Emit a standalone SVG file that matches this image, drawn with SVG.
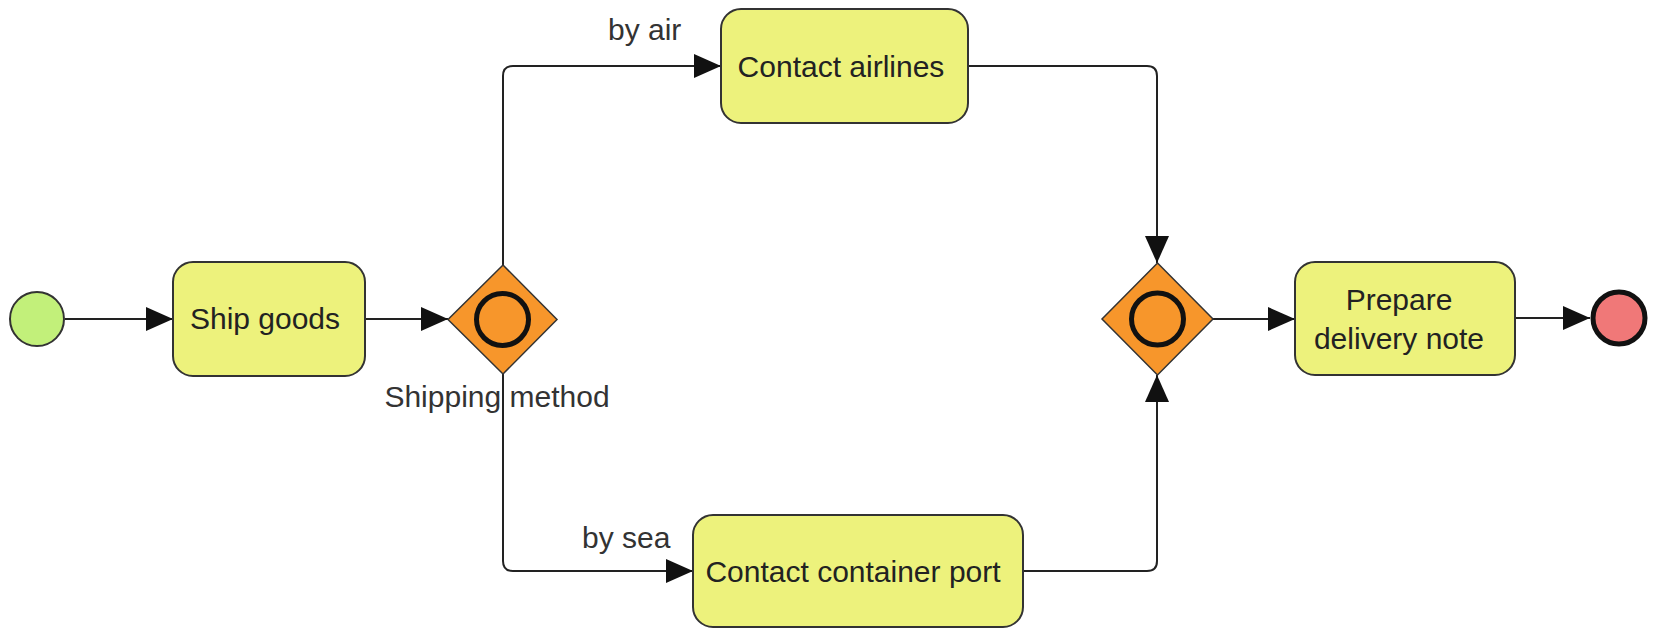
<svg xmlns="http://www.w3.org/2000/svg" width="1653" height="628" viewBox="0 0 1653 628">
<style>
.task{fill:#EDF27C;stroke:#333;stroke-width:2}
.gw{fill:#F7962B;stroke:#333;stroke-width:1.5}
.gwin{fill:#F7962B;stroke:#111;stroke-width:5}
.conn{fill:none;stroke:#222;stroke-width:2}
text{font-family:"Liberation Sans",Arial,sans-serif;font-size:30px}
.tt{fill:#222;text-anchor:middle}
.lbl{fill:#333}
</style>
<defs>
<marker id="arr" markerUnits="userSpaceOnUse" markerWidth="28" markerHeight="26" refX="27" refY="12" orient="auto">
<path d="M0,0 L27,12 L0,24 Z" fill="#111"/>
</marker>
</defs>
<g id="connectors">
<path class="conn" d="M65 319 L173 319" marker-end="url(#arr)"/>
<path class="conn" d="M365 319 L448 319" marker-end="url(#arr)"/>
<path class="conn" d="M503 265 L503 76 Q503 66 513 66 L721 66" marker-end="url(#arr)"/>
<path class="conn" d="M503 374 L503 561 Q503 571 513 571 L693 571" marker-end="url(#arr)"/>
<path class="conn" d="M968 66 L1147 66 Q1157 66 1157 76 L1157 263" marker-end="url(#arr)"/>
<path class="conn" d="M1023 571 L1147 571 Q1157 571 1157 561 L1157 375" marker-end="url(#arr)"/>
<path class="conn" d="M1213 319 L1295 319" marker-end="url(#arr)"/>
<path class="conn" d="M1515 318 L1590 318" marker-end="url(#arr)"/>
<text class="lbl" x="608" y="40">by air</text>
<text class="lbl" x="582" y="548">by sea</text>
</g>
<g id="start">
<circle cx="37" cy="319" r="27" fill="#C2F07A" stroke="#333" stroke-width="2"/>
</g>
<g id="ship-goods">
<rect class="task" x="173" y="262" width="192" height="114" rx="20"/>
<text class="tt" x="265" y="329">Ship goods</text>
</g>
<g id="gateway-split">
<polygon class="gw" points="503,265 557,319.5 503,374 448,319.5"/>
<circle class="gwin" cx="502.5" cy="319.5" r="26"/>
<text class="tt" x="497" y="407" style="fill:#333">Shipping method</text>
</g>
<g id="contact-airlines">
<rect class="task" x="721" y="9" width="247" height="114" rx="20"/>
<text class="tt" x="841" y="77">Contact airlines</text>
</g>
<g id="contact-container-port">
<rect class="task" x="693" y="515" width="330" height="112" rx="20"/>
<text class="tt" x="853" y="582">Contact container port</text>
</g>
<g id="gateway-join">
<polygon class="gw" points="1157.5,263 1213,319 1157.5,375 1102,319"/>
<circle class="gwin" cx="1157.5" cy="319" r="26"/>
</g>
<g id="prepare-delivery-note">
<rect class="task" x="1295" y="262" width="220" height="113" rx="20"/>
<text class="tt" x="1399" y="310">Prepare</text>
<text class="tt" x="1399" y="349">delivery note</text>
</g>
<g id="end">
<circle cx="1619" cy="318" r="26" fill="#F07878" stroke="#111" stroke-width="5"/>
</g>
</svg>
